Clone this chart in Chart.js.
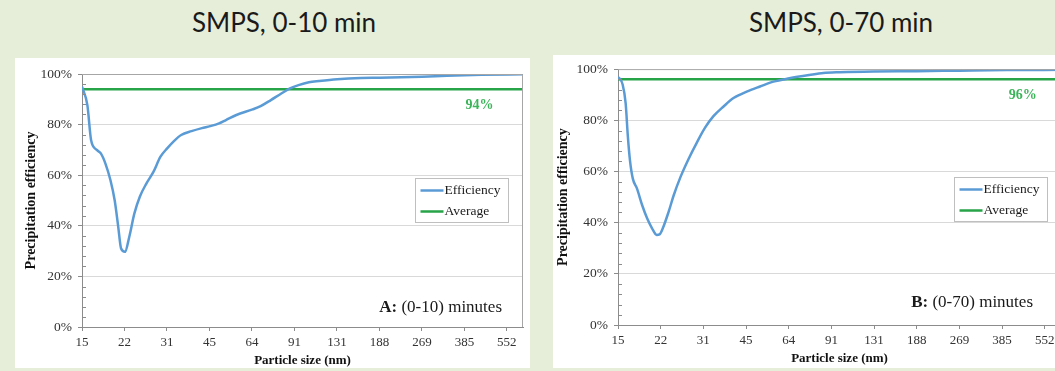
<!DOCTYPE HTML>
<html>
<head>
<meta charset="utf-8">
<script src="https://cdn.jsdelivr.net/npm/chart.js"></script>
<style>
    body { margin: 0; width: 1055px; height: 371px; overflow: hidden; background: #e6eed9; position: relative; }
    .title { position: absolute; top: 6px; width: 300px; text-align: center; font-family: Lato, sans-serif; font-size: 26px; color: #1a1a1a; }
    .panel { position: absolute; background: #fff; overflow: hidden; }
    canvas { display: block; }
</style>
</head>
<body>

<div class="title" style="left:134px">SMPS, 0-10 min</div>
<div class="title" style="left:691px">SMPS, 0-70 min</div>

<div class="panel" style="left:15px; top:58px; width:515px; height:310px">
    <canvas id="chartA" width="515" height="310"></canvas>
</div>
<div class="panel" style="left:553px; top:55px; width:515px; height:313px">
    <canvas id="chartB" width="515" height="313"></canvas>
</div>

<script type="text/javascript">
    // tick labels of the particle size axis (nm)
    const tickLabels = [15, 22, 31, 45, 64, 91, 131, 188, 269, 385, 552];

    // A: 0-10 minutes
    const sizesA = [15, 15.7, 16.2, 17.0, 17.6, 18.3, 19.1, 19.8, 20.4, 20.9,
                    21.6, 22.4, 23.4, 24.5, 25.9, 27.5, 29.2, 30.9, 32.8, 34.8,
                    38.0, 41.5, 44.5, 48.0, 50.9, 55.6, 63.8, 68.3, 74.5, 81.4,
                    87.6, 94.2, 102.9, 112.3, 130.8, 159.7, 187.6, 269, 332, 445, 633];
    const effA = [95, 87.7, 73.9, 70, 68.6, 64.6, 58, 50, 39.6, 31,
                  29.7, 35.6, 44.9, 51.5, 56.7, 61.3, 67.3, 70.6, 73.6, 75.9,
                  77.4, 78.6, 79.4, 80.5, 81.8, 83.8, 86, 87.3, 89.7, 92.3,
                  94.3, 95.6, 96.7, 97.2, 97.9, 98.4, 98.5, 98.9, 99.3, 99.7, 99.9];
    const avgA = 94;

    // B: 0-70 minutes
    const sizesB = [15, 15.6, 16.0, 16.3, 16.6, 17.0, 17.6, 18.4, 19.2, 20.0,
                    20.8, 21.3, 21.9, 23.0, 24.0, 25.4, 27.2, 29.2, 31.3, 33.6,
                    36.6, 39.8, 44.5, 49.8, 55.8, 63.8, 75.5, 85.0, 97.9, 129.7,
                    186.9, 269, 399, 633];
    const effB = [97, 94, 86.7, 73.8, 64.2, 57.2, 53.4, 46.8, 41.6, 37.8,
                  35.2, 35.4, 37.8, 44.2, 50.6, 57.7, 64.8, 71.3, 77.1, 81.6,
                  85.4, 88.7, 91.2, 93.2, 95.1, 96.4, 97.7, 98.5, 98.8, 99.1,
                  99.2, 99.4, 99.6, 99.7];
    const avgB = 96;

    const serif = 'Liberation Serif';
    const axisGray = '#8c8c8c';

    // frame, minor ticks, average label, corner label and boxed legend
    const extras = {
        id: 'extras',
        afterDraw(chart, args, opts) {
            const ctx = chart.ctx, a = chart.chartArea;
            const xs = chart.scales.x, ys = chart.scales.y;
            ctx.save();

            ctx.strokeStyle = '#a6a6a6';
            ctx.lineWidth = 1;
            ctx.beginPath();
            ctx.moveTo(a.left, a.top + 0.5);
            ctx.lineTo(a.right - 0.5, a.top + 0.5);
            ctx.lineTo(a.right - 0.5, a.bottom);
            ctx.stroke();

            ctx.strokeStyle = axisGray;
            for (let v = 4; v < 100; v += 4) {
                if (v % 20 === 0) continue;
                const py = Math.round(ys.getPixelForValue(v)) + 0.5;
                ctx.beginPath();
                ctx.moveTo(a.left, py);
                ctx.lineTo(a.left + 4, py);
                ctx.stroke();
            }

            ctx.fillStyle = '#3cb45a';
            ctx.font = 'bold 14px "' + serif + '"';
            ctx.textAlign = 'center';
            ctx.textBaseline = 'middle';
            ctx.fillText(opts.avg + '%', xs.getPixelForValue(opts.avgLabelX), ys.getPixelForValue(opts.avg) + 16);

            // corner label, bold letter + normal text
            ctx.fillStyle = '#1a1a1a';
            ctx.textAlign = 'left';
            ctx.font = '17px "' + serif + '"';
            const wNorm = ctx.measureText(opts.cornerText).width;
            ctx.font = 'bold 17px "' + serif + '"';
            const wBold = ctx.measureText(opts.cornerBold).width;
            const cx = a.right - opts.cornerRight - wNorm - wBold;
            const cy = a.bottom - opts.cornerBottom;
            ctx.fillText(opts.cornerBold, cx, cy);
            ctx.font = '17px "' + serif + '"';
            ctx.fillText(opts.cornerText, cx + wBold, cy);

            // legend box
            const bw = 93, bh = 44;
            const bx = Math.round(a.right - opts.legendRight - bw) + 0.5;
            const by = Math.round(a.top + opts.legendTop) + 0.5;
            ctx.fillStyle = '#fff';
            ctx.fillRect(bx, by, bw, bh);
            ctx.strokeStyle = '#bfbfbf';
            ctx.strokeRect(bx, by, bw, bh);
            ctx.font = '13.5px "' + serif + '"';
            chart.data.datasets.forEach((ds, i) => {
                const ry = by + 12 + i * 21;
                ctx.strokeStyle = ds.borderColor;
                ctx.lineWidth = 2.5;
                ctx.beginPath();
                ctx.moveTo(bx + 5, ry);
                ctx.lineTo(bx + 28, ry);
                ctx.stroke();
                ctx.fillStyle = '#1a1a1a';
                ctx.fillText(ds.label, bx + 29, ry);
            });
            ctx.restore();
        }
    };

    function makeChart(id, sizes, eff, avg, cfg) {
        const points = sizes.map((s, i) => ({x: s, y: eff[i]}));
        return new Chart(document.getElementById(id), {
            type: 'line',
            data: {
                datasets: [{
                    label: 'Efficiency',
                    data: points,
                    borderColor: '#5b9bd5',
                    borderWidth: 2.5,
                    pointRadius: 0,
                    cubicInterpolationMode: 'monotone'
                }, {
                    label: 'Average',
                    data: [{x: 15, y: avg}, {x: 633, y: avg}],
                    borderColor: '#27a348',
                    borderWidth: 2.5,
                    pointRadius: 0
                }]
            },
            options: {
                responsive: false,
                animation: false,
                events: [],
                layout: { padding: { top: cfg.top, right: cfg.right, left: 0, bottom: 0 } },
                scales: {
                    x: {
                        type: 'logarithmic',
                        bounds: 'data',
                        min: 15,
                        max: 633,
                        afterBuildTicks(s) {
                            s.ticks = tickLabels.map((v, i) => ({value: 15 * Math.pow(552 / 15, i / 10)}));
                        },
                        afterFit(s) { s.height = cfg.xH; },
                        ticks: {
                            autoSkip: false,
                            maxRotation: 0,
                            padding: 4,
                            color: '#333',
                            font: { family: serif, size: 13 },
                            callback: (v, i) => tickLabels[i]
                        },
                        grid: { drawOnChartArea: false, tickLength: 4, color: axisGray },
                        border: { color: axisGray },
                        title: {
                            display: true,
                            text: 'Particle size (nm)',
                            color: '#111',
                            font: { family: serif, size: 13, weight: 'bold' },
                            padding: { top: 0, bottom: cfg.xTitlePad }
                        }
                    },
                    y: {
                        min: 0,
                        max: 100,
                        afterFit(s) { s.width = cfg.yW; },
                        ticks: {
                            stepSize: 20,
                            padding: 6,
                            color: '#333',
                            font: { family: serif, size: 13.5 },
                            callback: v => v + '%'
                        },
                        grid: {
                            color: c => (c.tick && c.tick.value > 0 && c.tick.value < 100) ? '#d9d9d9' : 'rgba(0,0,0,0)',
                            tickLength: 4,
                            tickColor: axisGray
                        },
                        border: { color: axisGray },
                        title: {
                            display: true,
                            text: 'Precipitation efficiency',
                            color: '#111',
                            font: { family: serif, size: 14, weight: 'bold' },
                            padding: { top: cfg.yTitlePad, bottom: 0 }
                        }
                    }
                },
                plugins: {
                    legend: { display: false },
                    tooltip: { enabled: false },
                    extras: cfg.extras
                }
            },
            plugins: [extras]
        });
    }

    makeChart('chartA', sizesA, effA, avgA, {
        top: 16, right: 7, xH: 41, yW: 67, xTitlePad: 0, yTitlePad: 8,
        extras: { avg: avgA, avgLabelX: 438, cornerBold: 'A:', cornerText: ' (0-10) minutes',
                  cornerRight: 21, cornerBottom: 19, legendRight: 15, legendTop: 104 }
    });

    makeChart('chartB', sizesB, effB, avgB, {
        top: 11, right: 7, xH: 43, yW: 65, xTitlePad: 2, yTitlePad: 2,
        extras: { avg: avgB, avgLabelX: 458, cornerBold: 'B:', cornerText: ' (0-70) minutes',
                  cornerRight: 28, cornerBottom: 22, legendRight: 14, legendTop: 108 }
    });
</script>
</body>
</html>
